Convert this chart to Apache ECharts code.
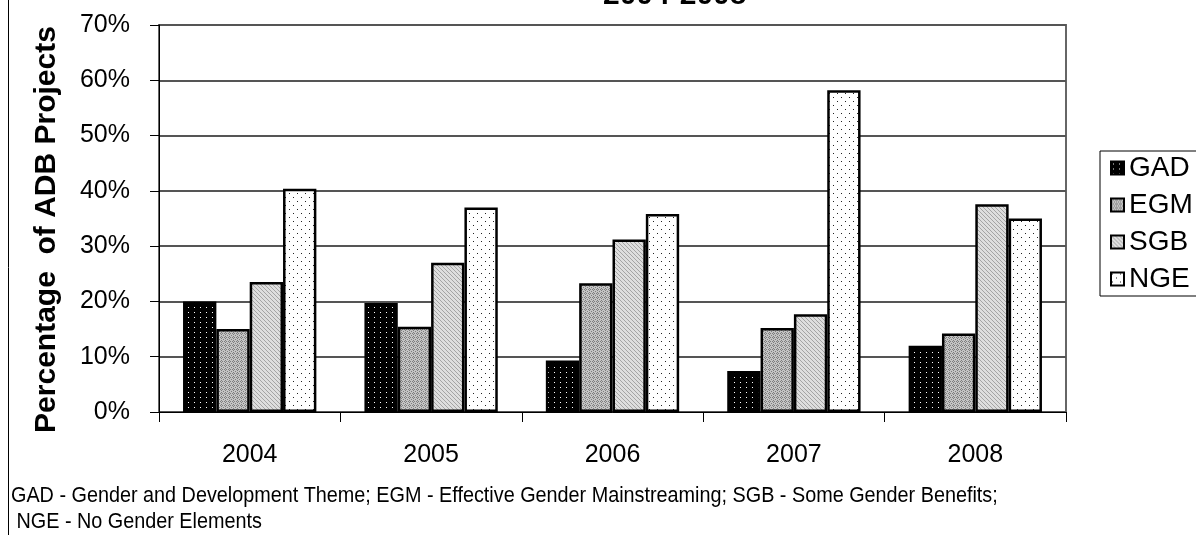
<!DOCTYPE html>
<html>
<head>
<meta charset="utf-8">
<script src="https://cdn.jsdelivr.net/npm/echarts@6/dist/echarts.min.js"></script>
<style>
  html, body { margin: 0; padding: 0; background: #fff; }
  #chart { width: 1196px; height: 535px; }
</style>
</head>
<body>
<div id="chart"></div>
<script>
// values (percent of projects)
const years = ['2004', '2005', '2006', '2007', '2008']
const gad = [20.0, 19.7, 9.3, 7.4, 12.0]
const egm = [15.0, 15.4, 23.3, 15.2, 14.2]
const sgb = [23.5, 27.0, 31.2, 17.7, 37.6]
const nge = [40.4, 37.0, 35.8, 58.2, 35.0]
const names = ['GAD', 'EGM', 'SGB', 'NGE']

const titleText = '2004-2008'
const yName = 'Percentage  of ADB Projects'
const note1 = 'GAD - Gender and Development Theme; EGM - Effective Gender Mainstreaming; SGB - Some Gender Benefits;'
const note2 = ' NGE - No Gender Elements'

const font = "'Liberation Sans', Arial, sans-serif"

// small repeating fills like the old excel hatches
function pattern(w, h, bg, fg, dots) {
    const c = document.createElement('canvas')
    c.width = w
    c.height = h
    const ctx = c.getContext('2d')
    ctx.fillStyle = bg
    ctx.fillRect(0, 0, w, h)
    ctx.fillStyle = fg
    dots.forEach(d => ctx.fillRect(d[0], d[1], 1, 1))
    return {image: c, repeat: 'repeat'}
}

const fills = [
    pattern(6, 5, '#000', '#fff', [[2, 2]]),
    pattern(4, 4, '#c4c4c4', '#7d7d7d', [[1, 0], [0, 1], [2, 1], [1, 2], [3, 3]]),
    pattern(4, 4, '#dedede', '#a4a4a4', [[0, 0], [1, 1], [2, 2], [3, 3]]),
    pattern(8, 8, '#fff', '#222', [[1, 1], [5, 5]])
]

const data = [gad, egm, sgb, nge]

const chart = echarts.init(document.getElementById('chart'), null, {renderer: 'canvas'})

chart.setOption({
    animation: false,
    backgroundColor: '#fff',
    textStyle: {fontFamily: font, color: '#000'},
    grid: {
        left: 159,
        right: 130,
        top: 25,
        bottom: 123,
        show: true,
        borderColor: '#666',
        borderWidth: 2
    },
    legend: {
        orient: 'vertical',
        left: 1100,
        top: 151,
        padding: [3, 40, 3, 10],
        borderColor: '#000',
        borderWidth: 1,
        icon: 'rect',
        itemWidth: 13,
        itemHeight: 13,
        itemGap: 9,
        textStyle: {fontSize: 28, fontFamily: font, color: '#000'},
        data: names
    },
    xAxis: {
        type: 'category',
        data: years,
        axisLine: {lineStyle: {color: '#000', width: 1}},
        axisTick: {show: true, length: 10, lineStyle: {color: '#000'}},
        axisLabel: {fontSize: 25, color: '#000', margin: 31, fontFamily: font},
        splitLine: {show: false}
    },
    yAxis: {
        type: 'value',
        min: 0,
        max: 70,
        interval: 10,
        name: yName,
        nameLocation: 'middle',
        nameRotate: 90,
        nameGap: 97,
        nameTextStyle: {fontSize: 30, fontWeight: 'bold', color: '#000', fontFamily: font, padding: [0, 22, 0, 0]},
        axisLine: {show: true, lineStyle: {color: '#000', width: 1}},
        axisTick: {show: true, length: 9, lineStyle: {color: '#000'}},
        axisLabel: {fontSize: 25, color: '#000', margin: 29, formatter: '{value}%', fontFamily: font},
        splitLine: {lineStyle: {color: '#555', width: 2}}
    },
    series: names.map((n, i) => ({
        name: n,
        type: 'bar',
        data: data[i],
        barGap: '0%',
        barCategoryGap: '26.5%',
        itemStyle: {color: fills[i], borderColor: '#000', borderWidth: 2.5},
        emphasis: {disabled: true}
    })),
    graphic: [
        {
            type: 'text',
            left: 603,
            top: -19,
            style: {text: titleText, font: 'bold 30px ' + font, fill: '#000'}
        },
        {
            type: 'line',
            shape: {x1: 8.5, y1: 0, x2: 8.5, y2: 535},
            style: {stroke: '#000', lineWidth: 1}
        },
        {
            type: 'text',
            x: 11,
            y: 485,
            scaleX: 0.9,
            style: {text: note1, font: '22px ' + font, fill: '#000'}
        },
        {
            type: 'text',
            x: 11,
            y: 511,
            scaleX: 0.9,
            style: {text: note2, font: '22px ' + font, fill: '#000'}
        }
    ]
})
</script>
</body>
</html>
